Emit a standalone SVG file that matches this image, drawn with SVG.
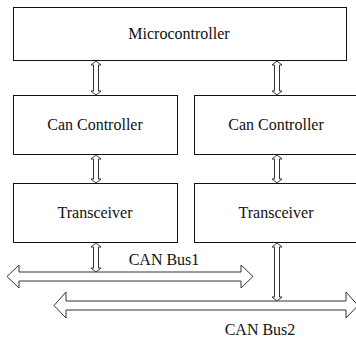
<svg xmlns="http://www.w3.org/2000/svg" width="356" height="338" viewBox="0 0 356 338">
<style>
.box{fill:#fff;stroke:#111;stroke-width:1}
.lbl{font-family:'Liberation Serif','Times New Roman',serif;font-size:16px;fill:#111;text-anchor:middle}
.arr{fill:#fff;stroke:#333;stroke-width:1;stroke-linejoin:miter}
</style>
<rect width="356" height="338" fill="#fff"/>
<g id="microcontroller"><rect class="box" x="13.5" y="7.5" width="333" height="53"/><text class="lbl" x="179" y="39">Microcontroller</text></g>
<g id="can-controller-1"><rect class="box" x="13.5" y="95.5" width="164" height="59"/><text class="lbl" x="95" y="130">Can Controller</text></g>
<g id="can-controller-2"><rect class="box" x="194.5" y="95.5" width="166" height="59"/><text class="lbl" x="276" y="130">Can Controller</text></g>
<g id="transceiver-1"><rect class="box" x="13.5" y="183.5" width="164" height="59"/><text class="lbl" x="95" y="218">Transceiver</text></g>
<g id="transceiver-2"><rect class="box" x="194.5" y="183.5" width="166" height="59"/><text class="lbl" x="276" y="218">Transceiver</text></g>
<g id="can-bus1"><path class="arr" d="M7,276.5 L19,265 L19,272 L241,272 L241,265 L253,276.5 L241,288 L241,281 L19,281 L19,288 Z"/><text class="lbl" x="164" y="265">CAN Bus1</text></g>
<g id="can-bus2"><path class="arr" d="M54,305.5 L66,292 L66,301 L346,301 L346,292 L358,305.5 L346,318 L346,310 L66,310 L66,318 Z"/><text class="lbl" x="260" y="335">CAN Bus2</text></g>
<g id="connectors">
<path class="arr" d="M96,61 L101,65 L98.5,65 L98.5,91 L101,91 L96,95 L91,91 L93.5,91 L93.5,65 L91,65 Z"/>
<path class="arr" d="M277,61 L282,65 L279.5,65 L279.5,91 L282,91 L277,95 L272,91 L274.5,91 L274.5,65 L272,65 Z"/>
<path class="arr" d="M96,155 L101,159 L98.5,159 L98.5,179 L101,179 L96,183 L91,179 L93.5,179 L93.5,159 L91,159 Z"/>
<path class="arr" d="M277,155 L282,159 L279.5,159 L279.5,179 L282,179 L277,183 L272,179 L274.5,179 L274.5,159 L272,159 Z"/>
<path class="arr" d="M96,243 L101,247 L98.5,247 L98.5,268 L101,268 L96,272 L91,268 L93.5,268 L93.5,247 L91,247 Z"/>
<path class="arr" d="M277,243 L282,247 L279.5,247 L279.5,297 L282,297 L277,301 L272,297 L274.5,297 L274.5,247 L272,247 Z"/>
</g>
</svg>
